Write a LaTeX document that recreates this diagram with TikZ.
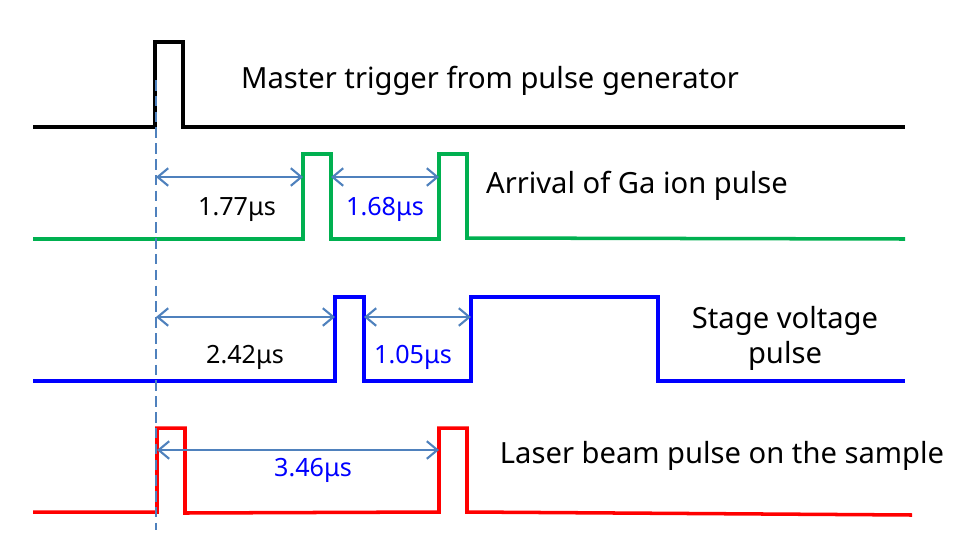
\documentclass[tikz,border=0pt]{standalone}
\usepackage{fontspec}
\setmainfont{Noto Sans}
\usetikzlibrary{arrows.meta}
\definecolor{dimblue}{RGB}{79,129,189}
\definecolor{sigblack}{RGB}{0,0,0}
\definecolor{siggreen}{RGB}{0,176,80}
\definecolor{sigblue}{RGB}{0,0,255}
\definecolor{sigred}{RGB}{255,0,0}

\begin{document}
\begin{tikzpicture}[x=0.02cm,y=-0.02cm,
  wave/.style={line width=2pt},
  span/.style={dimblue,line width=1.2pt,{Straight Barb[length=6pt,width=10pt]}-{Straight Barb[length=6pt,width=10pt]}},
  lbl/.style={font=\fontsize{16.6}{20}\selectfont,inner sep=0pt},
  dlbl/.style={font=\fontsize{14.3}{17}\selectfont,inner sep=0pt}]
\useasboundingbox (0,0) rectangle (960,555);
% signals
\draw[wave,sigblack] (33,127) -- (155,127) -- (155,42) -- (183,42) -- (183,127) -- (905,127);
\draw[wave,siggreen] (33,239) -- (303,239) -- (303,154) -- (331,154) -- (331,239) -- (439,239) -- (439,154) -- (467,154) -- (467,238) -- (905,239);
\draw[wave,sigblue] (33,381) -- (335,381) -- (335,297) -- (364,297) -- (364,381) -- (471,381) -- (471,297) -- (658,297) -- (658,381) -- (905,381);
\draw[wave,sigred] (33,512) -- (157,512) -- (157,428) -- (185,428) -- (185,513) -- (439,512) -- (439,428) -- (467,428) -- (467,512) -- (912,515);
% reference line
\draw[dimblue,line width=1.7pt,dash pattern=on 6pt off 3pt] (156,80) -- (156,530);
% interval ends
\coordinate (t0a) at (156,177);
\coordinate (g1) at (303,177);
\coordinate (g1e) at (331,177);
\coordinate (g2) at (439,177);
\coordinate (t0b) at (156,317);
\coordinate (s1) at (335,317);
\coordinate (s1e) at (364,317);
\coordinate (s2) at (471,317);
\coordinate (t0c) at (157,450);
\coordinate (l2) at (439,450);
\draw[span] (t0a) -- (g1);
\draw[span] (g1e) -- (g2);
\draw[span] (t0b) -- (s1);
\draw[span] (s1e) -- (s2);
\draw[span] (t0c) -- (l2);
\node[dlbl] (d177) at (237,210) {1.77μs};
\node[dlbl,sigblue] (d168) at (385,209) {1.68μs};
\node[dlbl] (d242) at (245,357) {2.42μs};
\node[dlbl,sigblue] (d105) at (413,357) {1.05μs};
\node[dlbl,sigblue] (d346) at (313,470) {3.46μs};
% signal names
\node[lbl] (master) at (490,81) {Master trigger from pulse generator};
\node[lbl] (arrival) at (637,186) {Arrival of Ga ion pulse};
\node[lbl,align=center,font=\fontsize{16.6}{20}\selectfont] (stage) at (785,338) {Stage voltage\\pulse};
\node[lbl] (laser) at (722,456) {Laser beam pulse on the sample};
\end{tikzpicture}
\end{document}
